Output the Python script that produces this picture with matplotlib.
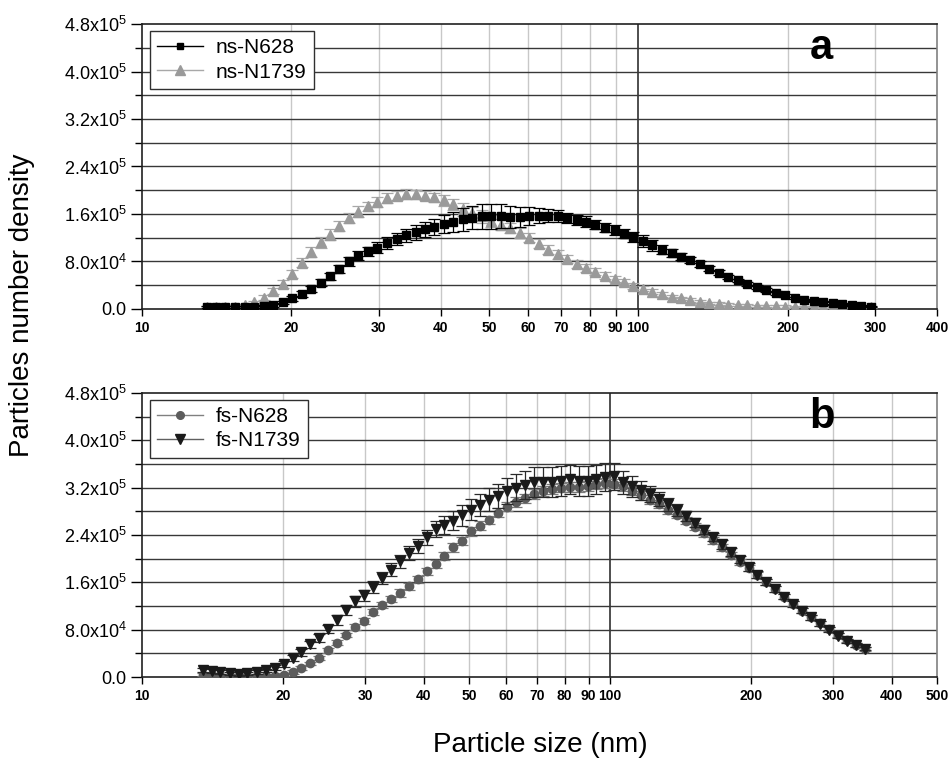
import matplotlib
matplotlib.use('Agg')
import matplotlib.pyplot as plt
from matplotlib.lines import Line2D
from matplotlib.ticker import FixedLocator, NullLocator

plt.rcParams['font.family'] = ['Liberation Sans', 'DejaVu Sans']
plt.rcParams['mathtext.default'] = 'regular'

# particle size bins (nm), shared by both panels; panel a stops at 294 nm
size_nm = [13.5, 14.1, 14.7, 15.4, 16.1, 16.8, 17.6, 18.4, 19.2, 20.1,
           21.0, 21.9, 22.9, 23.9, 25.0, 26.1, 27.3, 28.5, 29.8, 31.2,
           32.6, 34.0, 35.6, 37.2, 38.8, 40.6, 42.4, 44.3, 46.3, 48.4,
           50.6, 52.8, 55.2, 57.7, 60.3, 63.0, 65.8, 68.8, 71.9, 75.1,
           78.5, 82.0, 85.7, 89.6, 93.6, 97.8, 102.2, 106.8, 111.6, 116.7,
           121.9, 127.4, 133.1, 139.1, 145.4, 151.9, 158.8, 165.9, 173.4, 181.2,
           189.3, 197.8, 206.7, 216.0, 225.8, 235.9, 246.5, 257.6, 269.2, 281.4,
           294.0, 307.2, 321.1, 335.5, 350.6]
n_top = 71

# number density, in units of 1e3
ns_n628 = [3, 3, 3, 3, 3, 3.5, 4.5, 6.7, 11, 18,
           26, 34, 44, 55, 67, 80, 90, 97, 103, 111,
           118, 124, 129, 134, 138, 143, 147, 151, 154, 156,
           156, 156, 155, 155, 156, 157, 157, 156, 153, 150,
           147, 142, 137, 133, 127, 121, 114, 107, 100, 94,
           88, 82, 75, 68, 61, 54, 48, 42, 37, 32,
           27, 23, 19, 15, 13, 11, 9.5, 8, 7, 5.5,
           4]
ns_n628_err = [2, 2, 2, 2, 2, 2, 2,
               3, 3, 4, 5, 5, 6, 6, 7, 7, 8,
               8, 9, 10, 10, 11, 12, 13, 14, 15, 17,
               19, 20, 21, 21, 20, 19, 17, 15, 13, 11,
               10, 9, 9, 9, 8, 8, 8, 8, 9, 10,
               9, 8, 7, 6, 5, 5, 4, 4,
               4, 3, 3, 3, 3, 3, 2, 2, 2, 2, 2, 2, 2, 2, 1, 1]

ns_n1739 = [3, 3, 3.5, 4, 6, 11, 19, 30, 42, 59,
            78, 96, 112, 125, 140, 153, 164, 173, 180, 187,
            191, 194, 193, 191, 188, 183, 176, 168, 161, 156,
            148, 142, 136, 128, 120, 110, 100, 92, 84, 76,
            69, 63, 56, 50, 45, 39, 34, 29, 25, 21,
            18, 15, 12.5, 10.5, 9, 7.5, 6.7, 6, 5.5, 5,
            4.5, 4.2, 4, 3.8, 3.6, 3.4, 3.2, 3, 3, 3,
            3]
ns_n1739_err = [2, 2, 2, 2, 2,
                3, 4, 5, 6, 7, 8, 8, 9, 9, 9,
                9, 9, 8, 8, 8, 8, 8, 8, 8, 8,
                9, 10, 11, 11, 11, 10, 9, 8, 8, 8,
                8, 8, 7, 7, 7, 6, 6, 6, 5, 5,
                5, 4, 4, 4, 3, 3, 3, 3, 2, 2,
                2, 2, 2, 2, 2, 2, 2, 1, 1, 1, 1, 1, 1, 1, 1, 1]

fs_n628 = [4, 3, 2.5, 2, 2, 2, 2, 2, 2.5, 4,
           8, 15, 23, 32, 45, 58, 71, 85, 95, 110,
           121, 132, 142, 153, 165, 179, 191, 205, 219, 230,
           246, 256, 265, 278, 288, 296, 302, 309, 314, 318,
           320, 321, 321, 323, 326, 328, 327, 322, 314, 307,
           300, 292, 283, 274, 264, 254, 243, 231, 219, 207,
           195, 184, 172, 160, 148, 136, 124, 112, 101, 91,
           81, 71, 62, 54, 47]
fs_n628_err = [2, 2, 2, 2, 2, 2, 2, 2, 2,
               2, 3, 3, 3, 4, 4, 4, 4, 5, 5,
               5, 5, 5, 6, 6, 6, 6, 6, 7, 7,
               7, 7, 7, 7, 8, 8, 8, 8, 8, 8,
               8, 8, 8, 8, 8, 8, 8, 8, 8, 7,
               7, 7, 7, 7, 6, 6,
               6, 6, 6, 6, 5, 5, 5, 5, 5, 5, 4, 4, 4, 4, 4, 4, 3, 3, 3, 3]

fs_n1739 = [12, 10, 8, 6, 5.5, 6, 8, 11, 16, 22,
            32, 42, 55, 66, 81, 96, 113, 128, 138, 152,
            168, 181, 196, 210, 222, 236, 250, 257, 264, 273,
            283, 291, 300, 306, 314, 320, 325, 330, 330, 330,
            331, 334, 331, 331, 334, 338, 339, 329, 322, 316,
            309, 301, 292, 282, 272, 261, 249, 237, 224, 211,
            198, 186, 173, 161, 148, 136, 124, 112, 101, 90,
            80, 70, 61, 54, 48]
fs_n1739_err = [3, 3, 3, 3, 3, 3, 3, 3, 4,
                5, 5, 6, 6, 7, 7, 8, 8, 9, 9,
                10, 10, 11, 11, 12, 12, 13, 14, 15, 16,
                17, 18, 19, 20, 21, 22, 23, 24, 25, 25,
                25, 25, 25, 25, 25, 25, 24, 23, 20, 18,
                16, 14, 12, 11, 10, 9,
                8, 8, 7, 7, 7, 6, 6, 6, 5, 5, 5, 5, 4, 4, 4, 4, 4, 3, 3, 3]

xticks_a = [10, 20, 30, 40, 50, 60, 70, 80, 90, 100, 200, 300, 400]
xticks_b = [10, 20, 30, 40, 50, 60, 70, 80, 90, 100, 200, 300, 400, 500]
yticks = [0, 8e4, 1.6e5, 2.4e5, 3.2e5, 4.0e5, 4.8e5]
ytick_labels = ['0.0', r'8.0x10$^{4}$', r'1.6x10$^{5}$', r'2.4x10$^{5}$',
                r'3.2x10$^{5}$', r'4.0x10$^{5}$', r'4.8x10$^{5}$']
yminor = [4e4, 1.2e5, 2.0e5, 2.8e5, 3.6e5, 4.4e5]

fig = plt.figure(figsize=(9.53, 7.62), dpi=100)
ax_a = fig.add_axes([142 / 953, 1 - 309 / 762, 795 / 953, 285 / 762])
ax_b = fig.add_axes([142 / 953, 1 - 677 / 762, 795 / 953, 284 / 762])


def style_panel(ax, xmax, xticks):
    ax.set_xscale('log')
    ax.set_xlim(10, xmax)
    ax.set_ylim(0, 4.8e5)
    ax.xaxis.set_major_locator(FixedLocator(xticks))
    ax.xaxis.set_minor_locator(NullLocator())
    ax.set_xticklabels([str(t) for t in xticks], fontweight='bold', fontsize=10)
    ax.yaxis.set_major_locator(FixedLocator(yticks))
    ax.yaxis.set_minor_locator(FixedLocator(yminor))
    ax.set_yticklabels(ytick_labels, fontsize=13)
    ax.tick_params(axis='x', which='major', direction='out', length=5, width=1, pad=4)
    ax.tick_params(axis='y', which='major', direction='out', length=8, width=1, pad=3)
    ax.tick_params(axis='y', which='minor', direction='out', length=5, width=1)
    for t in xticks[1:-1]:
        if t == 100:
            ax.axvline(t, color='#303030', lw=1.2, zorder=0.6)
        else:
            ax.axvline(t, color='#c8c8c8', lw=1, zorder=0.5)
    for v in yticks[1:-1] + yminor:
        ax.axhline(v, color='#383838', lw=1, zorder=0.7)
    for s in ['left', 'bottom', 'top']:
        ax.spines[s].set_color('#202020')
        ax.spines[s].set_linewidth(1.2)
    ax.spines['right'].set_color('#808080')
    ax.spines['right'].set_linewidth(1.2)


style_panel(ax_a, 400, xticks_a)
style_panel(ax_b, 500, xticks_b)

x_a = size_nm[:n_top]
ax_a.errorbar(x_a, [v * 1e3 for v in ns_n1739], yerr=[e * 1e3 for e in ns_n1739_err],
              fmt='^', ms=7, mfc='#9a9a9a', mec='#9a9a9a', ecolor='#a8a8a8',
              elinewidth=0.9, capsize=4, capthick=0.9, zorder=3)
ax_a.errorbar(x_a, [v * 1e3 for v in ns_n628], yerr=[e * 1e3 for e in ns_n628_err],
              fmt='s', ms=5.5, mfc='black', mec='black', ecolor='black',
              elinewidth=0.9, capsize=4, capthick=0.9, zorder=4)

ax_b.errorbar(size_nm, [v * 1e3 for v in fs_n628], yerr=[e * 1e3 for e in fs_n628_err],
              fmt='o', ms=6, mfc='#5c5c5c', mec='#5c5c5c', ecolor='#7a7a7a',
              elinewidth=0.9, capsize=4, capthick=0.9, zorder=3)
ax_b.errorbar(size_nm, [v * 1e3 for v in fs_n1739], yerr=[e * 1e3 for e in fs_n1739_err],
              fmt='v', ms=7, mfc='#1a1a1a', mec='#1a1a1a', ecolor='#2a2a2a',
              elinewidth=0.9, capsize=4, capthick=0.9, zorder=4)

leg_kw = dict(loc='upper left', bbox_to_anchor=(8 / 795, 1 - 7 / 285), fontsize=15,
              frameon=True, fancybox=False, framealpha=1, edgecolor='#303030',
              handlelength=2.2, handletextpad=0.6, borderpad=0.35, labelspacing=0.25,
              borderaxespad=0)
h_a = [Line2D([], [], color='black', lw=1, marker='s', ms=5),
       Line2D([], [], color='#a8a8a8', lw=1, marker='^', ms=6.5, mfc='#9a9a9a', mec='#9a9a9a')]
leg = ax_a.legend(h_a, ['ns-N628', 'ns-N1739'], **leg_kw)
leg.get_frame().set_linewidth(1)
leg.set_zorder(6)
h_b = [Line2D([], [], color='#808080', lw=1, marker='o', ms=5.5, mfc='#5c5c5c', mec='#5c5c5c'),
       Line2D([], [], color='#606060', lw=1, marker='v', ms=6.5, mfc='#1a1a1a', mec='#1a1a1a')]
leg = ax_b.legend(h_b, ['fs-N628', 'fs-N1739'], **leg_kw)
leg.get_frame().set_linewidth(1)
leg.set_zorder(6)

ax_a.text(0.855, 0.915, 'a', transform=ax_a.transAxes, fontsize=30,
          fontweight='bold', ha='center', va='center')
ax_b.text(0.855, 0.915, 'b', transform=ax_b.transAxes, fontsize=30,
          fontweight='bold', ha='center', va='center')

fig.text(22 / 953, 1 - 305 / 762, 'Particles number density', rotation=90,
         ha='center', va='center', fontsize=20)
fig.text(540 / 953, 1 - 745 / 762, 'Particle size (nm)', ha='center', va='center',
         fontsize=20)

fig.savefig('out.png', dpi=100)
